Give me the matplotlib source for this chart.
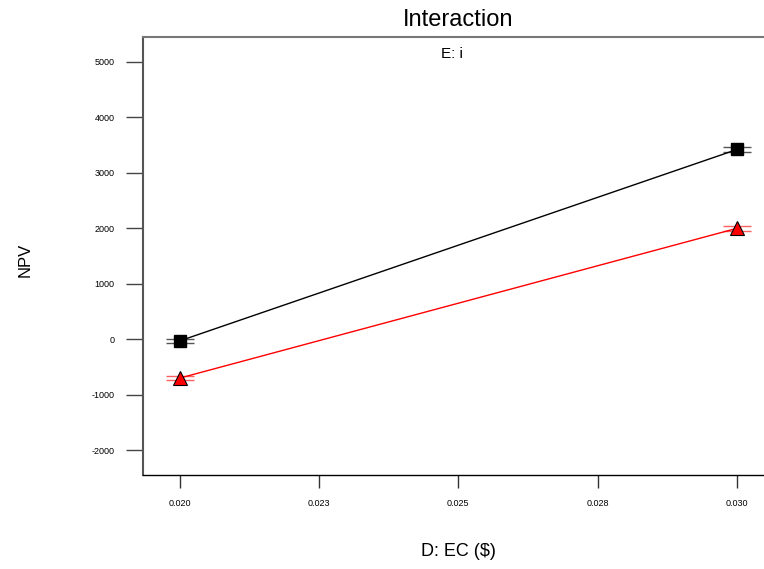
import matplotlib
matplotlib.use("Agg")
import matplotlib.pyplot as plt

plt.rcParams['font.family'] = ['Liberation Sans', 'DejaVu Sans']
plt.rcParams['axes.unicode_minus'] = False

x_levels = [0.020, 0.030]
npv_black = [-30, 3420]
npv_red = [-700, 2000]
err_black = [40, 40]
err_red = [40, 40]
x_ticks = [0.020, 0.0225, 0.025, 0.0275, 0.030]
x_ticklabels = ["0.020", "0.023", "0.025", "0.028", "0.030"]
y_ticks = [-2000, -1000, 0, 1000, 2000, 3000, 4000, 5000]

fig = plt.figure(figsize=(7.64, 5.69), dpi=100)
W, H = 764, 569
ax = fig.add_axes([143 / W, 1 - 475 / H, (766 - 143) / W, (475 - 36.7) / H])

ax.errorbar(x_levels, npv_black, yerr=err_black, fmt='none', ecolor='#555555',
            elinewidth=1, capsize=10, capthick=1, zorder=2)
ax.errorbar(x_levels, npv_red, yerr=err_red, fmt='none', ecolor='#ff6060',
            elinewidth=1, capsize=10, capthick=1, zorder=2)
ax.plot(x_levels, npv_black, color='black', lw=1, marker='s', markersize=8,
        markerfacecolor='black', markeredgecolor='black', zorder=3)
ax.plot(x_levels, npv_red, color='red', lw=1, marker='^', markersize=10,
        markerfacecolor='red', markeredgecolor='black', markeredgewidth=0.8, zorder=3)

ax.set_xlim(0.019345, 0.03052)
ax.set_ylim(-2445, 5452)
ax.set_xticks(x_ticks)
ax.set_xticklabels(x_ticklabels)
ax.set_yticks(y_ticks)
ax.tick_params(axis='y', direction='out', length=12.5, width=1, pad=8,
               labelsize=6.5, color='#444444')
ax.tick_params(axis='x', direction='out', length=9.5, width=1, pad=8,
               labelsize=6.5, color='#333333')
ax.spines['right'].set_visible(False)
ax.spines['left'].set_color('#555555')
ax.spines['left'].set_linewidth(1.5)
ax.spines['top'].set_color('#777777')
ax.spines['top'].set_linewidth(1.5)
ax.spines['bottom'].set_color('black')
ax.spines['bottom'].set_linewidth(1)

fig.text(458 / W, 1 - 20 / H, "Interaction", ha='center', va='center', fontsize=17)
fig.text(452 / W, 1 - 54 / H, "E: i", ha='center', va='center', fontsize=11)
fig.text(458 / W, 1 - 552 / H, "D: EC ($)", ha='center', va='center', fontsize=13)
fig.text(25 / W, 1 - 260 / H, "NPV", ha='center', va='center', fontsize=12, rotation=90)

fig.savefig("out.png", dpi=100)
